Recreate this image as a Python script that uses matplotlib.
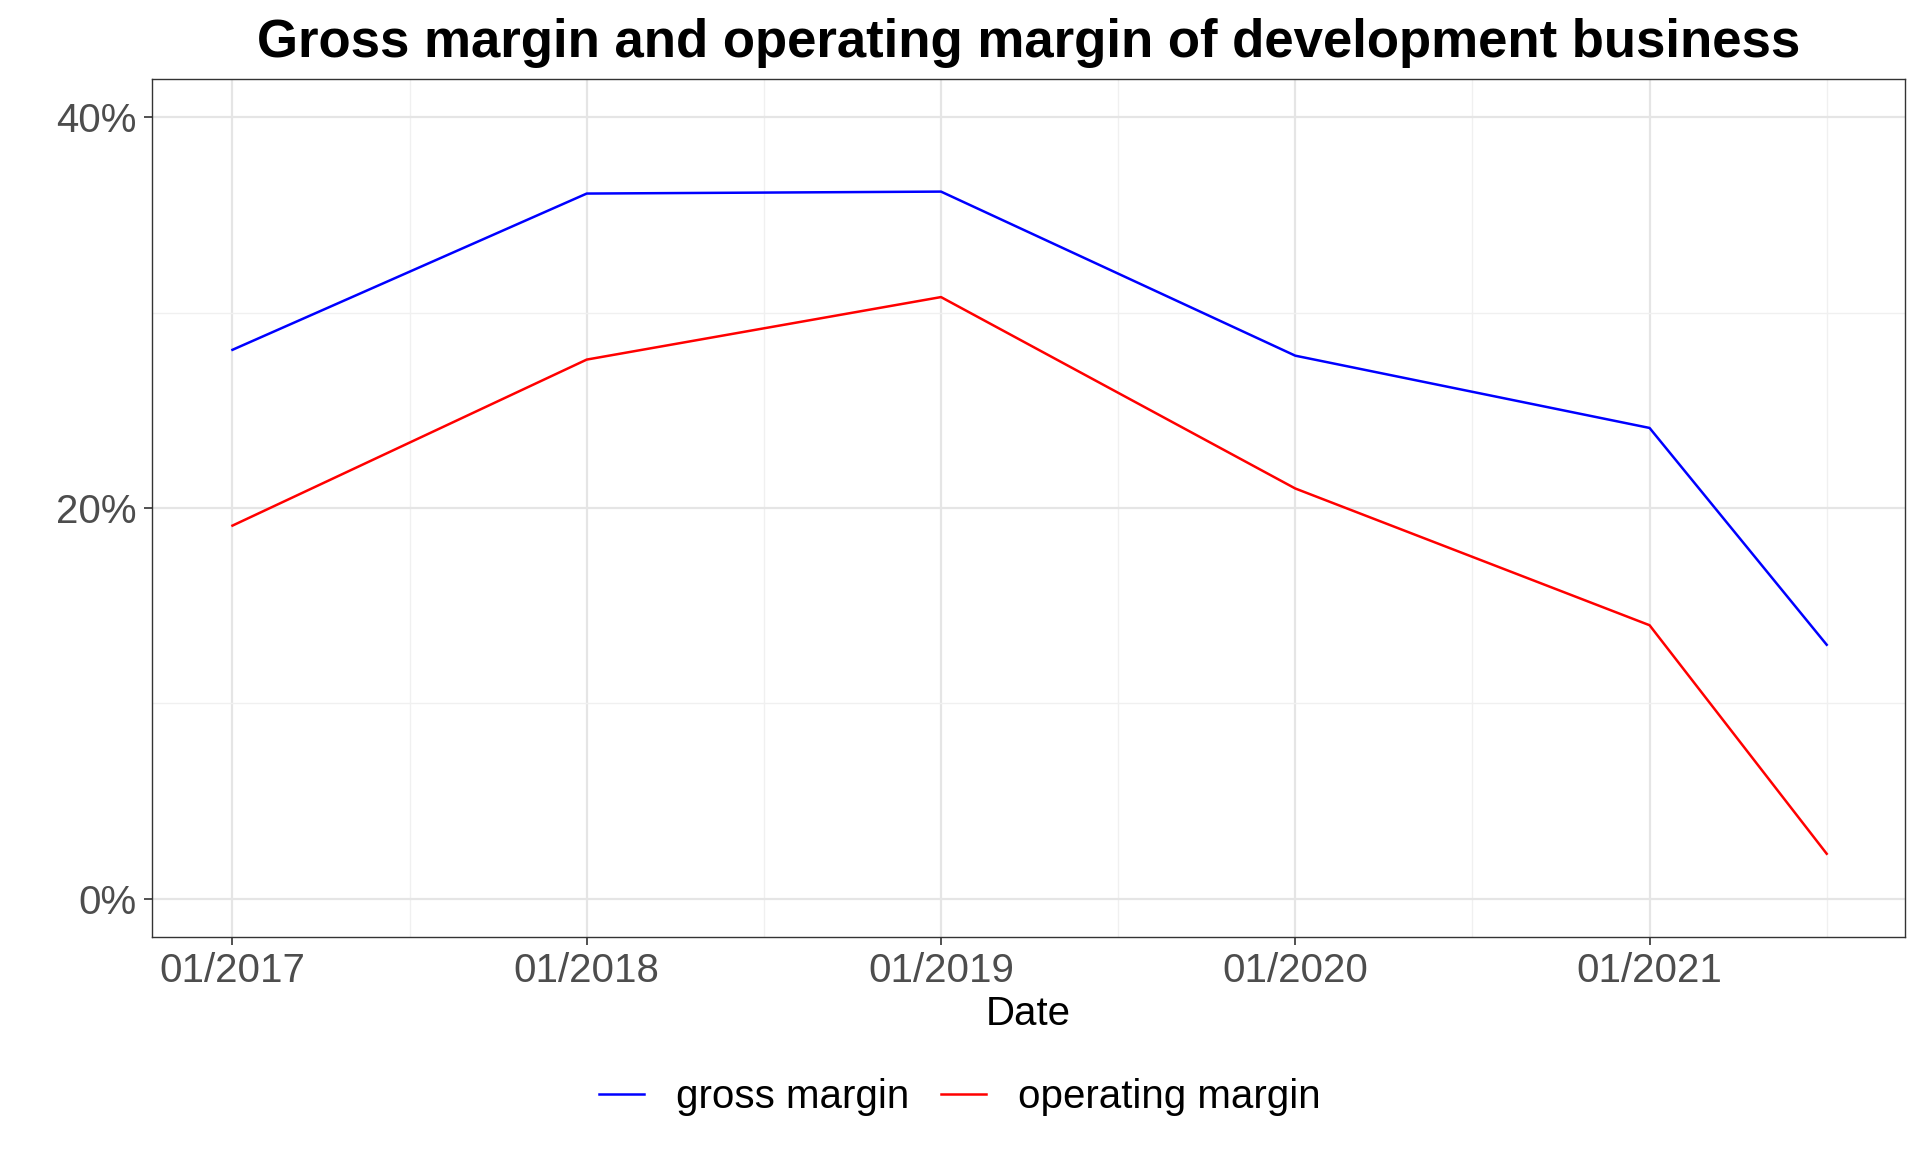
import matplotlib.pyplot as plt
from matplotlib.ticker import FuncFormatter

# decimal years (2017-01 ... 2021-07)
years = [2017.0, 2018.0, 2019.0, 2020.0, 2021.0, 2021.5]
gross_margin = [28.1, 36.1, 36.2, 27.8, 24.1, 13.0]
operating_margin = [19.1, 27.6, 30.8, 21.0, 14.0, 2.3]
tick_years = [2017, 2018, 2019, 2020, 2021]
tick_labels = ['01/2017', '01/2018', '01/2019', '01/2020', '01/2021']

plt.rcParams['font.family'] = ['Liberation Sans', 'DejaVu Sans']

fig = plt.figure(figsize=(19.2, 11.52), dpi=100)
ax = fig.add_axes([0.079, 0.187, 0.913, 0.744])

ax.plot(years, gross_margin, color='blue', lw=1.8, label='gross margin')
ax.plot(years, operating_margin, color='red', lw=1.8, label='operating margin')

ax.set_xlim(2016.772, 2021.72)
ax.set_ylim(-1.94, 41.94)
ax.set_xticks(tick_years)
ax.set_xticklabels(tick_labels)
ax.set_xticks([2017.5, 2018.5, 2019.5, 2020.5, 2021.5], minor=True)
ax.set_yticks([0, 20, 40])
ax.set_yticks([10, 30], minor=True)
ax.yaxis.set_major_formatter(FuncFormatter(lambda v, p: f'{v:.0f}%'))

ax.grid(which='major', color='#e5e5e5', lw=1.6)
ax.grid(which='minor', color='#f0f0f0', lw=1.0)
ax.set_axisbelow(True)
for s in ax.spines.values():
    s.set_color('#333333')
    s.set_linewidth(1.0)
ax.tick_params(which='major', labelsize=29, colors='#333333', length=6, width=1.2,
               labelcolor='#4d4d4d', pad=5)
ax.tick_params(which='minor', length=0)

ax.set_xlabel('Date', fontsize=29, labelpad=4)
ax.set_title('Gross margin and operating margin of development business',
             fontsize=38, fontweight='bold', pad=16)

fig.legend(loc='lower center', bbox_to_anchor=(0.5, 0.0), ncol=2, frameon=False,
           fontsize=29, handlelength=1.1, columnspacing=0.8, handletextpad=0.8)

fig.savefig('out.png', dpi=100)
